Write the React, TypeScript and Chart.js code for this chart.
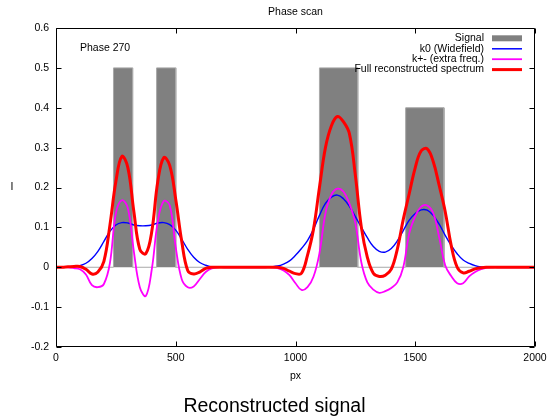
import React, { useEffect, useRef } from "react";
import { Chart, registerables } from "chart.js";

Chart.register(...registerables);

// sample positions (px)
const xs: number[] = Array.from({ length: 81 }, (_, i) => i * 25);

// Signal bars
const signalStart = [240, 420, 1100, 1460];
const signalEnd = [320, 500, 1260, 1620];
const signalHeight = [0.5, 0.5, 0.5, 0.4];

// k0 (Widefield)
const k0 = [
  0, 0, 0, 0.001, 0.004, 0.01, 0.022, 0.04, 0.065, 0.09,
  0.106, 0.112, 0.111, 0.106, 0.104, 0.104, 0.106, 0.111, 0.112, 0.107,
  0.093, 0.07, 0.045, 0.025, 0.012, 0.005, 0.001, 0, 0, 0,
  0, 0, 0, 0, 0, 0, 0.001, 0.003, 0.008, 0.016,
  0.03, 0.047, 0.067, 0.095, 0.13, 0.16, 0.176, 0.181, 0.172, 0.153,
  0.127, 0.1, 0.074, 0.052, 0.04, 0.038, 0.047, 0.066, 0.092, 0.118,
  0.135, 0.144, 0.143, 0.13, 0.108, 0.08, 0.055, 0.034, 0.018, 0.01,
  0.004, 0.001, 0, 0, 0, 0, 0, 0, 0, 0, 0,
];

// k+- (extra freq.)
const kpm = [
  0, 0, 0, -0.002, -0.005, -0.018, -0.045, -0.05, -0.042, 0.01,
  0.135, 0.168, 0.148, 0.04, -0.05, -0.072, -0.005, 0.115, 0.166, 0.155,
  0.05, -0.03, -0.05, -0.048, -0.03, -0.012, -0.003, 0, 0, 0,
  0, 0, 0, 0, 0, 0, 0, -0.002, -0.008, -0.02,
  -0.04, -0.057, -0.05, -0.024, 0.035, 0.135, 0.182, 0.197, 0.19, 0.16,
  0.11, 0.012, -0.038, -0.056, -0.064, -0.06, -0.052, -0.038, 0.0, 0.085,
  0.128, 0.152, 0.155, 0.136, 0.075, 0.005, -0.022, -0.04, -0.04, -0.023,
  -0.012, -0.005, -0.001, 0, 0, 0, 0, 0, 0, 0, 0,
];

// Full reconstructed spectrum
const full = [
  0, 0, 0.001, 0.002, 0.002, -0.005, -0.017, -0.012, 0.015, 0.105,
  0.215, 0.278, 0.25, 0.14, 0.045, 0.034, 0.09, 0.215, 0.275, 0.255,
  0.17, 0.065, -0.008, -0.017, -0.012, -0.003, 0, 0, 0, 0,
  0, 0, 0, 0, 0, 0, 0, 0, -0.003, -0.01,
  -0.016, -0.015, 0.03, 0.095, 0.2, 0.3, 0.355, 0.378, 0.365, 0.335,
  0.23, 0.1, 0.025, -0.015, -0.023, -0.02, -0.005, 0.045, 0.12, 0.185,
  0.25, 0.292, 0.297, 0.265, 0.205, 0.14, 0.055, 0.0, -0.014, -0.01,
  -0.004, -0.001, 0, 0, 0, 0, 0, 0, 0, 0, 0,
];

const xTicks = [0, 500, 1000, 1500, 2000];
const yTicks = [-0.2, -0.1, 0, 0.1, 0.2, 0.3, 0.4, 0.5, 0.6];

const legendLabels = ["Signal", "k0 (Widefield)", "k+- (extra freq.)", "Full reconstructed spectrum"];
const FONT = "'Liberation Sans', Arial, Helvetica, sans-serif";

function signalPoints() {
  const pts: { x: number; y: number }[] = [{ x: 0, y: 0 }];
  signalStart.forEach((s, i) => {
    pts.push({ x: s, y: 0 }, { x: s, y: signalHeight[i] }, { x: signalEnd[i], y: signalHeight[i] }, { x: signalEnd[i], y: 0 });
  });
  pts.push({ x: 2000, y: 0 });
  return pts;
}

const overlay = {
  id: "overlay",
  afterDraw(chart: any) {
    const { ctx, chartArea: a, scales } = chart;
    ctx.save();
    const L = Math.round(a.left) + 0.5;
    const R = Math.round(a.right) - 0.5;
    const T = Math.round(a.top) + 0.5;
    const B = Math.round(a.bottom) - 0.5;
    ctx.strokeStyle = "#000";
    ctx.lineWidth = 1;
    ctx.beginPath();
    ctx.rect(L, T, R - L, B - T);
    const tl = 5;
    xTicks.forEach((v) => {
      const p = Math.round(scales.x.getPixelForValue(v)) + 0.5;
      ctx.moveTo(p, B);
      ctx.lineTo(p, B - tl);
      ctx.moveTo(p, T);
      ctx.lineTo(p, T + tl);
    });
    yTicks.forEach((v) => {
      const p = Math.round(scales.y.getPixelForValue(v)) + 0.5;
      ctx.moveTo(L, p);
      ctx.lineTo(L + tl, p);
      ctx.moveTo(R, p);
      ctx.lineTo(R - tl, p);
    });
    ctx.stroke();

    ctx.fillStyle = "#000";
    ctx.font = `10.5px ${FONT}`;
    ctx.textBaseline = "middle";
    const cx = (a.left + a.right) / 2;
    ctx.textAlign = "center";
    ctx.fillText("Phase scan", cx, 12);
    ctx.fillText("px", cx, 376);
    ctx.fillText("I", 12, (a.top + a.bottom) / 2);
    ctx.textAlign = "left";
    ctx.fillText("Phase 270", 80, 48);

    // legend
    const colors = ["#808080", "#0000ff", "#ff00ff", "#ff0000"];
    const widths = [0, 1.5, 1.8, 3];
    const rowY = [38.3, 48.8, 59.2, 69.6];
    legendLabels.forEach((lab, i) => {
      ctx.textAlign = "right";
      ctx.fillStyle = "#000";
      ctx.fillText(lab, 484, rowY[i]);
      if (i === 0) {
        ctx.fillStyle = colors[0];
        ctx.fillRect(492, rowY[i] - 3, 30, 6);
      } else {
        ctx.strokeStyle = colors[i];
        ctx.lineWidth = widths[i];
        ctx.beginPath();
        ctx.moveTo(492, rowY[i]);
        ctx.lineTo(522, rowY[i]);
        ctx.stroke();
      }
    });
    ctx.restore();
  },
};

export default function App() {
  const ref = useRef<HTMLCanvasElement | null>(null);
  useEffect(() => {
    if (!ref.current) return;
    const mk = (arr: number[]) => xs.map((x, i) => ({ x, y: arr[i] }));
    const curve = { pointRadius: 0, fill: false, tension: 0.4, cubicInterpolationMode: "default" };
    const chart = new Chart(ref.current, {
      type: "line",
      data: {
        datasets: [
          {
            label: legendLabels[0],
            data: signalPoints(),
            borderColor: "#a8a8a8",
            borderWidth: 1,
            backgroundColor: "#808080",
            fill: "origin",
            pointRadius: 0,
            tension: 0,
            order: 4,
          },
          { ...curve, label: legendLabels[1], data: mk(k0), borderColor: "#0000ff", borderWidth: 1.4, order: 3 },
          { ...curve, label: legendLabels[2], data: mk(kpm), borderColor: "#ff00ff", borderWidth: 1.8, order: 2 },
          { ...curve, label: legendLabels[3], data: mk(full), borderColor: "#ff0000", borderWidth: 3, order: 1 },
        ] as any,
      },
      options: {
        animation: false,
        responsive: false,
        layout: { padding: { top: 28, right: 14, left: 0, bottom: 0 } },
        plugins: { legend: { display: false }, tooltip: { enabled: false }, title: { display: false } },
        scales: {
          x: {
            type: "linear",
            min: 0,
            max: 2000,
            grid: { display: false, drawTicks: false },
            border: { display: false },
            ticks: {
              stepSize: 500,
              padding: 5,
              color: "#000",
              font: { family: FONT, size: 10.5 },
              maxRotation: 0,
              callback: (v: any) => String(v),
            },
            afterFit: (s: any) => {
              s.height = 73;
              s.paddingLeft = 0;
              s.paddingRight = 0;
            },
          },
          y: {
            type: "linear",
            min: -0.2,
            max: 0.6,
            grid: { display: false, drawTicks: false },
            border: { display: false },
            ticks: {
              stepSize: 0.1,
              padding: 7,
              color: "#000",
              font: { family: FONT, size: 10.5 },
              callback: (v: any) => String(Math.round(Number(v) * 10) / 10),
            },
            afterFit: (s: any) => {
              s.width = 56;
              s.paddingTop = 0;
              s.paddingBottom = 0;
            },
          },
        },
      },
      plugins: [overlay],
    });
    return () => chart.destroy();
  }, []);

  return (
    <div style={{ position: "fixed", left: 0, top: 0, width: 549, height: 420, background: "#fff" }}>
      <canvas ref={ref} width={549} height={420} style={{ display: "block" }} />
      <div
        style={{
          position: "absolute",
          left: 0,
          top: 394,
          width: 549,
          textAlign: "center",
          fontFamily: FONT,
          fontSize: "19.5px",
          lineHeight: "22px",
          color: "#000",
        }}
      >
        Reconstructed signal
      </div>
    </div>
  );
}
